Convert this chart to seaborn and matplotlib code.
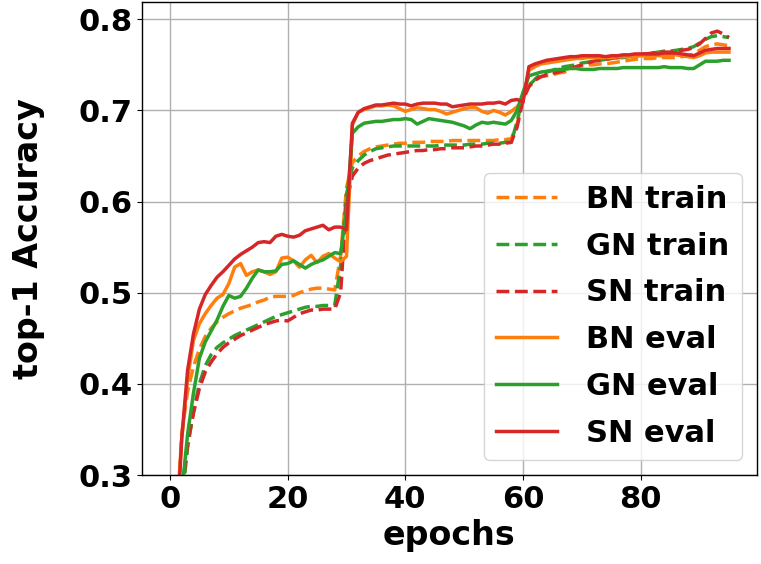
import matplotlib
matplotlib.use("Agg")
import matplotlib.pyplot as plt
import seaborn as sns
import numpy as np
import pandas as pd

epochs = list(range(96))

bn_train = [0.10, 0.23, 0.345, 0.392, 0.419, 0.438, 0.452, 0.461, 0.468, 0.473,
            0.477, 0.480, 0.483, 0.485, 0.487, 0.490, 0.492, 0.495, 0.496, 0.496,
            0.496, 0.497, 0.500, 0.502, 0.504, 0.505, 0.505, 0.504, 0.503, 0.540,
            0.615, 0.643, 0.650, 0.655, 0.658, 0.660, 0.661, 0.662, 0.663, 0.664,
            0.664, 0.665, 0.665, 0.665, 0.666, 0.666, 0.666, 0.666, 0.667, 0.667,
            0.667, 0.667, 0.667, 0.667, 0.667, 0.667, 0.668, 0.668, 0.669, 0.685,
            0.718, 0.728, 0.733, 0.737, 0.738, 0.739, 0.741, 0.742, 0.745, 0.748,
            0.749, 0.750, 0.750, 0.751, 0.751, 0.752, 0.753, 0.754, 0.755, 0.756,
            0.757, 0.757, 0.757, 0.758, 0.758, 0.758, 0.758, 0.759, 0.760, 0.762,
            0.766, 0.770, 0.772, 0.773, 0.772, 0.771]

gn_train = [0.03, 0.16, 0.27, 0.33, 0.37, 0.40, 0.420, 0.432, 0.440, 0.445,
            0.449, 0.453, 0.456, 0.459, 0.462, 0.465, 0.468, 0.471, 0.474, 0.476,
            0.478, 0.480, 0.482, 0.484, 0.485, 0.485, 0.486, 0.486, 0.486, 0.530,
            0.608, 0.637, 0.645, 0.651, 0.655, 0.658, 0.659, 0.660, 0.661, 0.661,
            0.661, 0.661, 0.661, 0.661, 0.661, 0.661, 0.662, 0.662, 0.662, 0.662,
            0.662, 0.663, 0.663, 0.663, 0.664, 0.664, 0.664, 0.665, 0.665, 0.688,
            0.716, 0.727, 0.734, 0.740, 0.742, 0.744, 0.746, 0.748, 0.749, 0.750,
            0.752, 0.753, 0.754, 0.755, 0.756, 0.757, 0.758, 0.758, 0.759, 0.760,
            0.761, 0.762, 0.763, 0.764, 0.765, 0.765, 0.766, 0.767, 0.768, 0.770,
            0.774, 0.778, 0.781, 0.782, 0.781, 0.780]

sn_train = [0.05, 0.18, 0.28, 0.335, 0.368, 0.395, 0.413, 0.424, 0.433, 0.440,
            0.445, 0.449, 0.453, 0.456, 0.459, 0.462, 0.465, 0.467, 0.469, 0.470,
            0.469, 0.473, 0.477, 0.479, 0.481, 0.481, 0.482, 0.482, 0.482, 0.500,
            0.600, 0.628, 0.637, 0.642, 0.645, 0.647, 0.649, 0.651, 0.652, 0.653,
            0.654, 0.655, 0.656, 0.656, 0.657, 0.657, 0.658, 0.658, 0.659, 0.659,
            0.659, 0.660, 0.661, 0.661, 0.662, 0.663, 0.663, 0.664, 0.665, 0.682,
            0.712, 0.726, 0.733, 0.737, 0.739, 0.741, 0.742, 0.744, 0.746, 0.748,
            0.750, 0.752, 0.754, 0.755, 0.756, 0.757, 0.758, 0.759, 0.760, 0.761,
            0.762, 0.762, 0.763, 0.764, 0.764, 0.764, 0.765, 0.766, 0.767, 0.769,
            0.773, 0.779, 0.785, 0.787, 0.784, 0.780]

bn_eval = [0.12, 0.24, 0.34, 0.405, 0.448, 0.466, 0.477, 0.486, 0.494, 0.498,
           0.510, 0.528, 0.532, 0.519, 0.523, 0.525, 0.523, 0.520, 0.523, 0.538,
           0.539, 0.535, 0.528, 0.536, 0.541, 0.533, 0.540, 0.543, 0.538, 0.534,
           0.540, 0.684, 0.698, 0.701, 0.703, 0.705, 0.705, 0.706, 0.705, 0.702,
           0.699, 0.701, 0.703, 0.702, 0.701, 0.701, 0.699, 0.696, 0.698, 0.700,
           0.702, 0.703, 0.703, 0.699, 0.697, 0.700, 0.698, 0.695, 0.699, 0.704,
           0.713, 0.744, 0.748, 0.751, 0.752, 0.753, 0.754, 0.755, 0.756, 0.757,
           0.757, 0.758, 0.758, 0.758, 0.758, 0.758, 0.759, 0.759, 0.759, 0.759,
           0.760, 0.760, 0.760, 0.760, 0.760, 0.761, 0.761, 0.760, 0.759, 0.758,
           0.760, 0.763, 0.764, 0.764, 0.764, 0.764]

gn_eval = [0.05, 0.17, 0.28, 0.345, 0.39, 0.428, 0.446, 0.458, 0.470, 0.485,
           0.497, 0.494, 0.496, 0.505, 0.516, 0.525, 0.523, 0.523, 0.524, 0.531,
           0.532, 0.535, 0.531, 0.527, 0.531, 0.534, 0.536, 0.540, 0.544, 0.543,
           0.590, 0.675, 0.682, 0.686, 0.687, 0.688, 0.688, 0.689, 0.690, 0.690,
           0.691, 0.690, 0.685, 0.688, 0.691, 0.690, 0.689, 0.688, 0.687, 0.685,
           0.683, 0.680, 0.684, 0.687, 0.686, 0.687, 0.686, 0.685, 0.689, 0.700,
           0.720, 0.738, 0.740, 0.742, 0.743, 0.744, 0.745, 0.745, 0.746, 0.746,
           0.745, 0.745, 0.745, 0.746, 0.746, 0.746, 0.746, 0.747, 0.747, 0.747,
           0.747, 0.747, 0.747, 0.747, 0.748, 0.747, 0.747, 0.747, 0.746, 0.746,
           0.750, 0.754, 0.754, 0.754, 0.755, 0.755]

sn_eval = [0.10, 0.22, 0.34, 0.415, 0.455, 0.482, 0.498, 0.508, 0.517, 0.523,
           0.530, 0.537, 0.542, 0.546, 0.550, 0.555, 0.556, 0.555, 0.562, 0.564,
           0.562, 0.561, 0.563, 0.568, 0.570, 0.572, 0.574, 0.569, 0.572, 0.572,
           0.569, 0.686, 0.698, 0.702, 0.704, 0.706, 0.706, 0.707, 0.708, 0.707,
           0.707, 0.705, 0.707, 0.708, 0.708, 0.708, 0.707, 0.707, 0.704, 0.705,
           0.706, 0.707, 0.707, 0.707, 0.708, 0.708, 0.709, 0.707, 0.711, 0.712,
           0.709, 0.748, 0.751, 0.753, 0.755, 0.756, 0.757, 0.758, 0.759, 0.759,
           0.760, 0.760, 0.760, 0.760, 0.759, 0.760, 0.760, 0.761, 0.761, 0.762,
           0.762, 0.762, 0.762, 0.762, 0.763, 0.763, 0.763, 0.762, 0.761, 0.760,
           0.763, 0.766, 0.767, 0.768, 0.768, 0.768]

series = [
    ("BN train", bn_train, "#ff7f0e", "--"),
    ("GN train", gn_train, "#2ca02c", "--"),
    ("SN train", sn_train, "#d62728", "--"),
    ("BN eval", bn_eval, "#ff7f0e", "-"),
    ("GN eval", gn_eval, "#2ca02c", "-"),
    ("SN eval", sn_eval, "#d62728", "-"),
]

plt.rcParams["font.family"] = ["DejaVu Sans"]
plt.rcParams["font.weight"] = "bold"

fig, ax = plt.subplots(figsize=(7.61, 5.64), dpi=100)
fig.subplots_adjust(left=0.1866, right=0.9947, bottom=0.1578, top=0.9965)

for name, vals, col, ls in series:
    df = pd.DataFrame({"epochs": epochs, "acc": vals})
    sns.lineplot(data=df, x="epochs", y="acc", ax=ax, color=col, linestyle=ls,
                 linewidth=2.5, label=name)

ax.set_xlim(-4.75, 99.75)
ax.set_ylim(0.3, 0.819)
ax.set_xticks([0, 20, 40, 60, 80])
ax.set_yticks([0.3, 0.4, 0.5, 0.6, 0.7, 0.8])
ax.grid(True, color="#b0b0b0", linewidth=1.0)
ax.set_axisbelow(True)
ax.tick_params(labelsize=22)
for lab in ax.get_xticklabels() + ax.get_yticklabels():
    lab.set_fontweight("bold")
ax.set_xlabel("epochs", fontsize=24, fontweight="bold")
ax.set_ylabel("top-1 Accuracy", fontsize=24, fontweight="bold", labelpad=24)
for s in ax.spines.values():
    s.set_color("black")
    s.set_linewidth(1.0)

leg = ax.legend(loc="lower right", prop={"size": 22, "weight": "bold"},
                handlelength=2.0, labelspacing=0.58, borderpad=0.4,
                handletextpad=0.95, framealpha=0.8)

fig.savefig("out.png", dpi=100)
